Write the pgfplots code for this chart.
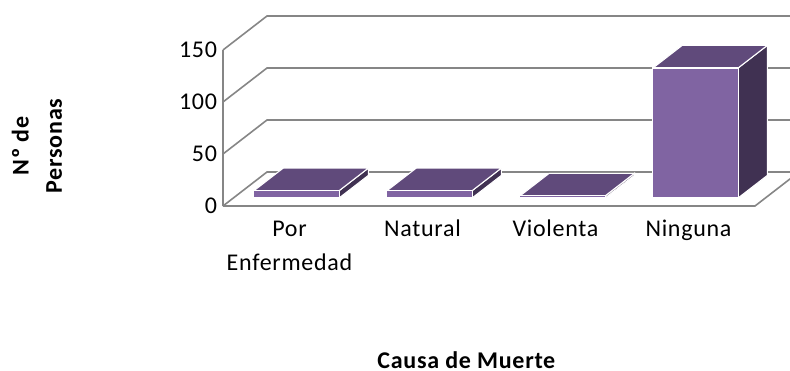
\documentclass[border=0pt]{standalone}
\usepackage{fontspec}
\setmainfont[LetterSpace=3]{Carlito}
\usepackage{pgfplots}
\pgfplotsset{compat=1.18}
\definecolor{barfront}{HTML}{8064A2}
\definecolor{bartop}{HTML}{604A7B}
\definecolor{barside}{HTML}{403152}
\definecolor{gridc}{HTML}{868686}
% one 3D bar: x left, x right, value
\newcommand{\cuboid}[3]{
  \addplot3[fill=barside, draw=white, line width=0.8pt] coordinates {(#2,0.235,0)(#2,0.9,0)(#2,0.9,#3)(#2,0.235,#3)(#2,0.235,0)};
  \addplot3[fill=bartop, draw=white, line width=0.8pt] coordinates {(#1,0.235,#3)(#2,0.235,#3)(#2,0.9,#3)(#1,0.9,#3)(#1,0.235,#3)};
  \addplot3[fill=barfront, draw=white, line width=0.8pt] coordinates {(#1,0.235,0)(#2,0.235,0)(#2,0.235,#3)(#1,0.235,#3)(#1,0.235,0)};
}
\begin{document}
\begin{tikzpicture}[x=0.75pt,y=0.75pt]
\useasboundingbox (0,0) rectangle (790,371);
\clip (0,0) rectangle (790,371);
\begin{axis}[
  at={(167.25pt,123.75pt)}, anchor=south west,
  x={(99.75pt,0pt)}, y={(33pt,25.5pt)}, z={(0pt,0.78pt)},
  xmin=0, xmax=4, ymin=0, ymax=1, zmin=0, zmax=150,
  clip=false,
  axis lines*=left,
  axis line style={draw=none},
  xtick={0.5,1.5,2.5,3.5},
  xticklabels={\strut Por\\\strut Enfermedad,\strut Natural,\strut Violenta,\strut Ninguna},
  ytick=\empty,
  ztick={0,50,100,150},
  major tick length=0pt,
  /pgf/number format/assume math mode=true,
  tick label style={font=\fontsize{18}{25}\selectfont},
  x tick label style={align=center, anchor=north, yshift=-2pt},
  z tick label style={anchor=east, xshift=-1pt},
  xlabel={\bfseries Causa de Muerte},
  xlabel style={at={(axis cs:1.83,0,0)}, anchor=center, inner sep=0pt, yshift=-115.5pt, font=\fontsize{18}{20}\selectfont},
]
% floor
\addplot3[gridc, line width=1.2pt] coordinates {(0,0,0)(0,1,0)(4.3,1,0)};
\addplot3[gridc, line width=1.2pt] coordinates {(0,0,0)(4,0,0)(4,1,0)};
% left wall
\addplot3[gridc, line width=1.2pt] coordinates {(0,0,0)(0,0,150)};
\addplot3[gridc, line width=1.2pt] coordinates {(0,0,50)(0,1,50)(4.3,1,50)};
\addplot3[gridc, line width=1.2pt] coordinates {(0,0,100)(0,1,100)(4.3,1,100)};
\addplot3[gridc, line width=1.2pt] coordinates {(0,0,150)(0,1,150)(4.3,1,150)};
\cuboid{0.155}{0.795}{7}
\cuboid{1.155}{1.795}{7}
\cuboid{2.155}{2.795}{2}
\cuboid{3.155}{3.795}{125}
\end{axis}
\node[rotate=90, align=center, font=\fontsize{18}{25}\selectfont\bfseries] at (37,225) {Nº de\\Personas};
\end{tikzpicture}
\end{document}
